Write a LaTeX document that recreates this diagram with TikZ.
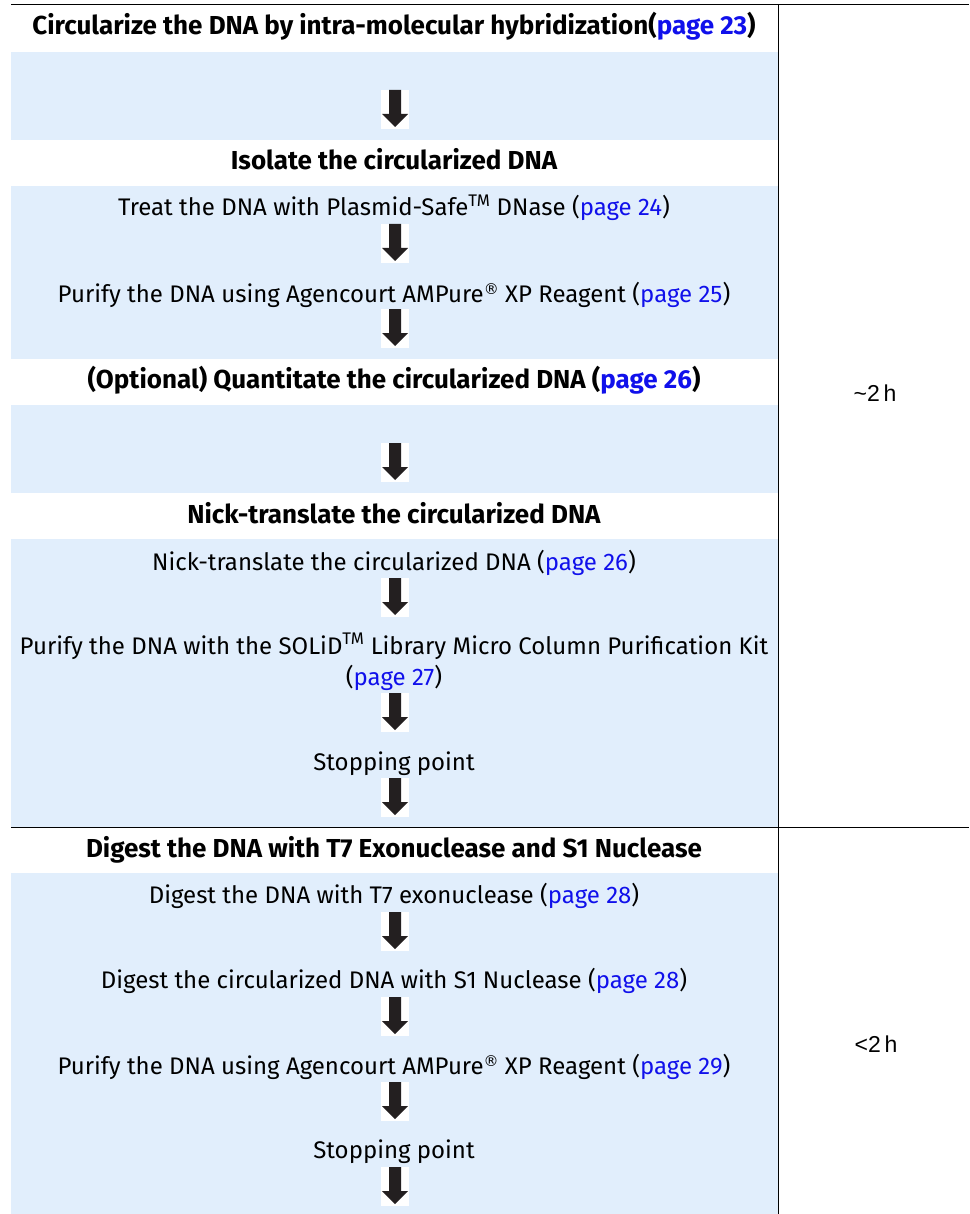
\documentclass[tikz,border=0pt]{standalone}
\usepackage{fontspec}
\setmainfont{Fira Sans}
\newfontfamily\timefont{Liberation Sans}
\newfontfamily\symfont{DejaVu Sans}
\definecolor{band}{RGB}{225,238,252}
\definecolor{linkblue}{RGB}{16,16,235}
\definecolor{arrowink}{RGB}{35,31,32}
\newcommand\pg[1]{\textcolor{linkblue}{#1}}
\newcommand\tmk{\textsuperscript{TM}}
\newcommand\regk{\raisebox{0.3em}{\symfont\fontsize{15}{15}\selectfont ®}}
\tikzset{
  body/.style={font=\fontsize{24}{28}\selectfont, inner sep=0pt, anchor=base, text=black},
  head/.style={font=\fontsize{26}{30}\selectfont\bfseries, inner sep=0pt, anchor=base, text=black},
  timelbl/.style={font=\timefont\fontsize{23}{27}\selectfont, inner sep=0pt, anchor=base},
  bandfill/.style={fill=band},
  rule/.style={draw=black, line width=1pt},
  downarr/.pic={
    \fill[white] (-14,0) rectangle (14,39);
    \fill[arrowink] (-6,0) -- (6,0) -- (6,24) -- (13,24) -- (0,37) -- (-13,24) -- (-6,24) -- cycle;
  }
}
\begin{document}
\begin{tikzpicture}[x=1pt,y=-1pt]
\useasboundingbox (0,0) rectangle (969,1214);
% bands
\fill[bandfill] (11,52) rectangle (778,140);
\fill[bandfill] (11,186) rectangle (778,359);
\fill[bandfill] (11,405) rectangle (778,493);
\fill[bandfill] (11,539) rectangle (778,827);
\fill[bandfill] (11,873) rectangle (778,1214);
% rules
\draw[rule] (11,5) -- (969,5);
\draw[rule] (11,827) -- (969,827);
\draw[rule] (778,5) -- (778,1214);
% arrows
\foreach \yy in {90,224,309,443,578,693,778,912,997,1082,1167}
  \pic at (395,\yy) {downarr};
% headings
\node[head] (h1) at (394,35) {Circularize the DNA by intra-molecular hybridization(\pg{page 23})};
\node[head] (h2) at (394,170) {Isolate the circularized DNA};
\node[head] (h3) at (394,388) {(Optional) Quantitate the circularized DNA (\pg{page 26})};
\node[head] (h4) at (394,523) {Nick-translate the circularized DNA};
\node[head] (h5) at (394,857) {Digest the DNA with T7 Exonuclease and S1 Nuclease};
% steps
\node[body] (s1) at (394,216) {Treat the DNA with Plasmid-Safe\tmk{} DNase (\pg{page 24})};
\node[body] (s2) at (394,302) {Purify the DNA using Agencourt AMPure\regk{} XP Reagent (\pg{page 25})};
\node[body] (s3) at (394,570) {Nick-translate the circularized DNA (\pg{page 26})};
\node[body] (s4a) at (394,654) {Purify the DNA with the SOLiD\tmk{} Library Micro Column Purification Kit};
\node[body] (s4b) at (394,685) {(\pg{page 27})};
\node[body] (s5) at (394,770) {Stopping point};
\node[body] (s6) at (394,903) {Digest the DNA with T7 exonuclease (\pg{page 28})};
\node[body] (s7) at (394,988) {Digest the circularized DNA with S1 Nuclease (\pg{page 28})};
\node[body] (s8) at (394,1074) {Purify the DNA using Agencourt AMPure\regk{} XP Reagent (\pg{page 29})};
\node[body] (s9) at (394,1158) {Stopping point};
% times
\node[timelbl] (t1) at (875,401) {\char`\~2\,h};
\node[timelbl] (t2) at (876,1052) {<2\,h};
\end{tikzpicture}
\end{document}
